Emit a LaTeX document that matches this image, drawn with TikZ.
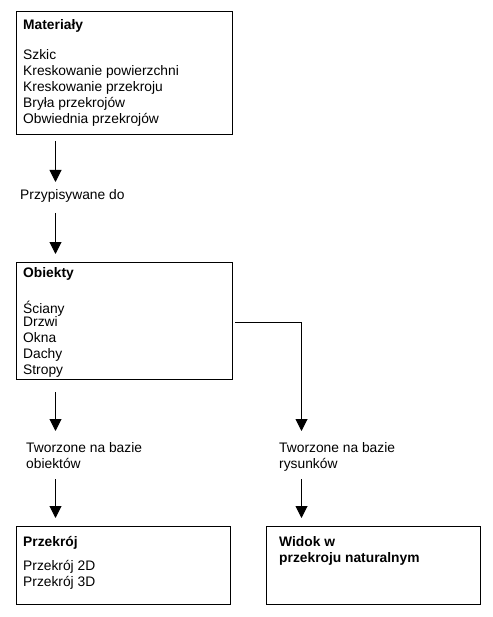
\documentclass[tikz,border=0pt]{standalone}
\usepackage{fontspec}
\setmainfont{Liberation Sans}
\usetikzlibrary{arrows.meta}
\begin{document}
\begin{tikzpicture}[x=1pt,y=-1pt,
  box/.style={draw,line width=1pt,anchor=north west,inner sep=0pt},
  txt/.style={anchor=base west,inner sep=0pt,font=\fontsize{13.8}{16}\selectfont},
  btxt/.style={txt,font=\fontsize{13.8}{16}\selectfont\bfseries},
  arr/.style={line width=1pt,-{Triangle[width=12pt,length=12pt]}},
  conn/.style={line width=1pt}]
\useasboundingbox (0,0) rectangle (492,617);
% boxes
\node[box,minimum width=216pt,minimum height=123pt] (mat) at (15.5,11.5) {};
\node[box,minimum width=216pt,minimum height=117pt] (obj) at (15.5,261.5) {};
\node[box,minimum width=214pt,minimum height=78pt] (prz) at (15.5,525.5) {};
\node[box,minimum width=214pt,minimum height=78pt] (wid) at (265.5,525.5) {};
% texts Materialy
\node[btxt] (t1) at (23,30) {Materiały};
\node[txt] (t2) at (23,60) {Szkic};
\node[txt] (t3) at (23,76) {Kreskowanie powierzchni};
\node[txt] (t4) at (23,92) {Kreskowanie przekroju};
\node[txt] (t5) at (23,108) {Bryła przekrojów};
\node[txt] (t6) at (23,124) {Obwiednia przekrojów};
% Obiekty
\node[btxt] (o1) at (23,277) {Obiekty};
\node[txt] (o2) at (23,313) {Ściany};
\node[txt] (o3) at (23,326) {Drzwi};
\node[txt] (o4) at (23,342) {Okna};
\node[txt] (o5) at (23,358) {Dachy};
\node[txt] (o6) at (23,374) {Stropy};
% labels
\node[txt] (l1) at (20,200) {Przypisywane do};
\node[txt] (l2) at (26,452) {Tworzone na bazie};
\node[txt] (l3) at (26,468) {obiektów};
\node[txt] (l4) at (279,452) {Tworzone na bazie};
\node[txt] (l5) at (279,468) {rysunków};
% Przekroj
\node[btxt] (p1) at (23,546) {Przekrój};
\node[txt] (p2) at (23,570) {Przekrój 2D};
\node[txt] (p3) at (23,586) {Przekrój 3D};
% Widok
\node[btxt] (w1) at (279,546) {Widok w};
\node[btxt] (w2) at (279,562) {przekroju naturalnym};
% connector coordinates
\coordinate (a1s) at (55.5,141);
\coordinate (a1e) at (55.5,182);
\coordinate (a2s) at (55.5,213);
\coordinate (a2e) at (55.5,254);
\coordinate (a3s) at (55.5,392);
\coordinate (a3e) at (55.5,431);
\coordinate (a4s) at (55.5,479);
\coordinate (a4e) at (55.5,518);
\coordinate (r0) at (235,322.5);
\coordinate (r1) at (301.5,322.5);
\coordinate (r2) at (301.5,431);
\coordinate (r3s) at (301.5,479);
\coordinate (r3e) at (301.5,518);
\draw[arr] (a1s) -- (a1e);
\draw[arr] (a2s) -- (a2e);
\draw[arr] (a3s) -- (a3e);
\draw[arr] (a4s) -- (a4e);
\draw[arr] (r0) -- (r1) -- (r2);
\draw[arr] (r3s) -- (r3e);
\end{tikzpicture}
\end{document}
